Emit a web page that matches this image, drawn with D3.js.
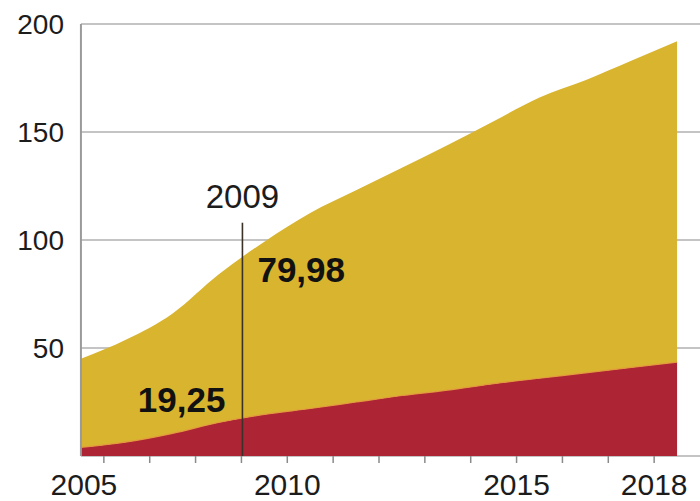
<!DOCTYPE html>
<html>
<head>
<meta charset="utf-8">
<script src="https://cdn.jsdelivr.net/npm/d3@7"></script>
<style>
body{margin:0;background:#fff;}
text{font-family:"Liberation Sans",Arial,sans-serif;}
</style>
</head>
<body>
<svg id="chart" width="700" height="501"></svg>
<script>
// values per year (plotted at mid-year)
let years=[2005,2006,2007,2008,2009,2010,2011,2012,2013,2014,2015,2016,2017,2018];
let redVals=[4,6.5,10.5,15.5,19.25,22,25,28,30.5,33.5,36,38.5,41,43.5];
let yellowVals=[41,47.5,55.5,68.5,79.98,90.5,98,105.5,113.5,121.5,130,135.5,142,148.5];
let yTicks=[50,100,150,200];
let xTickYears=[2006,2007,2008,2009,2010,2011,2012,2013,2014,2015,2016,2017,2018];
let xLabels=[2005,2010,2015,2018];
let markYear=2009;
let markRed="19,25", markYellow="79,98";

let svg=d3.select("#chart");

let x=d3.scaleLinear().domain([2005,2019]).range([58,700]);
let y=d3.scaleLinear().domain([0,200]).range([456,24]);

let rows=years.map((yr,i)=>({year:yr,red:redVals[i],yellow:yellowVals[i]}));
let series=d3.stack().keys(["red","yellow"])(rows);
let cols={red:"#ad2534",yellow:"#d9b42f"};

// gridlines
svg.append("g").selectAll("line").data(yTicks.concat([0])).enter().append("line")
  .attr("x1",x(years[0]+0.5)).attr("x2",700)
  .attr("y1",d=>y(d)).attr("y2",d=>y(d))
  .attr("stroke","#c4c4c4").attr("stroke-width",2);

// areas
let area=d3.area().curve(d3.curveMonotoneX)
  .x(d=>x(d.data.year+0.5)).y0(d=>y(d[0])).y1(d=>y(d[1]));
svg.append("g").selectAll("path").data(series).enter().append("path")
  .attr("d",area).attr("fill",d=>cols[d.key]);

// thin orange seam between the layers
svg.append("path")
  .attr("d",d3.line().curve(d3.curveMonotoneX).x(d=>x(d.data.year+0.5)).y(d=>y(d[1]))(series[0]))
  .attr("fill","none").attr("stroke","#e39a3c").attr("stroke-width",1.2);

// left axis line
svg.append("line").attr("x1",x(years[0]+0.5)).attr("x2",x(years[0]+0.5))
  .attr("y1",y(200)).attr("y2",y(0)).attr("stroke","#9a9a9a").attr("stroke-width",2);

// y labels
svg.append("g").selectAll("text").data(yTicks).enter().append("text")
  .text(d=>d).attr("x",64).attr("y",d=>y(d)+10)
  .attr("text-anchor","end").style("font-size","28px").attr("fill","#1c1c1c");

// x ticks
svg.append("g").selectAll("line").data(xTickYears).enter().append("line")
  .attr("x1",d=>x(d)).attr("x2",d=>x(d)).attr("y1",y(0)).attr("y2",y(0)+7)
  .attr("stroke","#8a8a8a").attr("stroke-width",1.5);

// x labels
svg.append("g").selectAll("text").data(xLabels).enter().append("text")
  .text(d=>d).attr("x",d=>Math.max(x(d),x(years[0]+0.5)+3)).attr("y",495)
  .attr("text-anchor","middle").style("font-size","30px").attr("fill","#1c1c1c");

// 2009 marker
svg.append("line").attr("x1",x(markYear)+1).attr("x2",x(markYear)+1)
  .attr("y1",y(108)).attr("y2",y(0)).attr("stroke","#3a3128").attr("stroke-width",1.6);
svg.append("text").text(markYear).attr("x",x(markYear)+1).attr("y",208)
  .attr("text-anchor","middle").style("font-size","33px").attr("fill","#1c1c1c");
svg.append("text").text(markRed).attr("x",x(markYear)-16).attr("y",412)
  .attr("text-anchor","end").style("font-size","35px").style("font-weight","bold").attr("fill","#111");
svg.append("text").text(markYellow).attr("x",x(markYear)+16).attr("y",282)
  .attr("text-anchor","start").style("font-size","35px").style("font-weight","bold").attr("fill","#111");
</script>
</body>
</html>
